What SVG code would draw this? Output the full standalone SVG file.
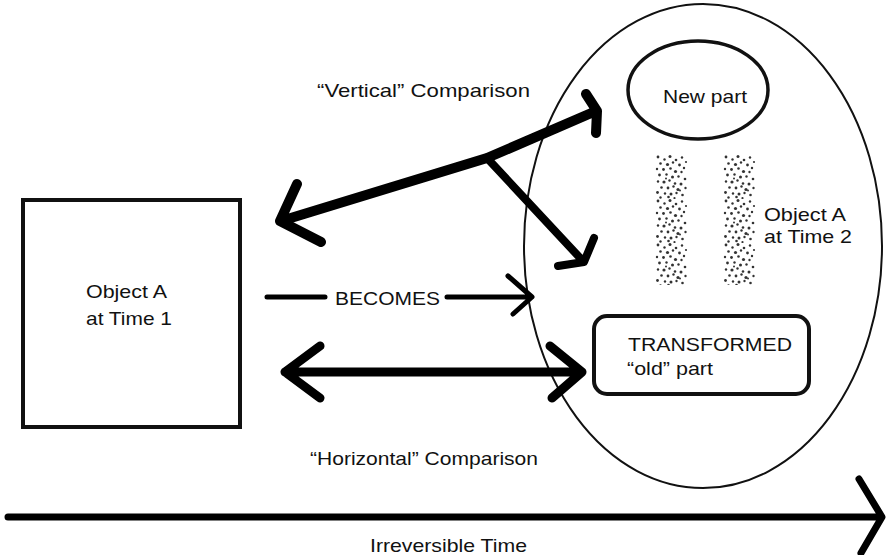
<svg xmlns="http://www.w3.org/2000/svg" width="889" height="555" viewBox="0 0 889 555">
<style>
text{font-family:"Liberation Sans",Arial,sans-serif;font-size:19px;fill:#111}
.thin{fill:none;stroke:#111;stroke-width:2}
.box{fill:none;stroke:#111;stroke-width:4}
.c{fill:none;stroke:#000;stroke-linecap:round;stroke-linejoin:round}
.d circle{fill:#333}
</style>
<defs>
<pattern id="dots" patternUnits="userSpaceOnUse" x="655" y="155" width="34" height="44">
<g class="d">
<circle cx="3" cy="2" r="1.4"/><circle cx="9.5" cy="4.5" r="1.2"/><circle cx="15" cy="1.5" r="1.5"/><circle cx="21" cy="5" r="1.3"/><circle cx="27" cy="2.5" r="1.2"/><circle cx="31" cy="7" r="1.1"/>
<circle cx="5.5" cy="8.5" r="1.3"/><circle cx="12.5" cy="9.5" r="1.6"/><circle cx="18" cy="7.5" r="1.2"/><circle cx="24.5" cy="10" r="1.4"/><circle cx="29" cy="13" r="1.2"/>
<circle cx="2" cy="14" r="1.2"/><circle cx="8.5" cy="14.5" r="1.4"/><circle cx="15.5" cy="13.5" r="1.3"/><circle cx="20.5" cy="16.5" r="1.6"/><circle cx="26.5" cy="17" r="1.2"/>
<circle cx="4.5" cy="20" r="1.4"/><circle cx="11.5" cy="19.5" r="1.2"/><circle cx="17.5" cy="22" r="1.5"/><circle cx="23.5" cy="21.5" r="1.2"/><circle cx="30" cy="24" r="1.3"/>
<circle cx="3" cy="26.5" r="1.2"/><circle cx="9" cy="27" r="1.6"/><circle cx="14.5" cy="25.5" r="1.2"/><circle cx="20" cy="28.5" r="1.3"/><circle cx="26" cy="29" r="1.5"/>
<circle cx="6.5" cy="32.5" r="1.3"/><circle cx="13" cy="33" r="1.4"/><circle cx="18.5" cy="31.5" r="1.2"/><circle cx="23" cy="34.5" r="1.6"/><circle cx="30.5" cy="33" r="1.2"/>
<circle cx="2.5" cy="37.5" r="1.4"/><circle cx="10" cy="38.5" r="1.2"/><circle cx="16" cy="39" r="1.5"/><circle cx="21.5" cy="38" r="1.2"/><circle cx="27.5" cy="40" r="1.3"/>
<circle cx="5.5" cy="42.5" r="1.2"/><circle cx="13.5" cy="42" r="1.3"/><circle cx="19.5" cy="43" r="1.1"/><circle cx="25" cy="35.5" r="1"/><circle cx="11" cy="23.5" r="1"/>
</g>
</pattern>
<filter id="soft" x="-5%" y="-5%" width="110%" height="110%"><feGaussianBlur stdDeviation="0.45"/></filter>
</defs>
<rect width="889" height="555" fill="#fff"/>
<g id="objectA-time1">
<rect x="23" y="200" width="217" height="227" class="box"/>
<text x="86" y="298" textLength="81" lengthAdjust="spacingAndGlyphs">Object A</text>
<text x="86" y="325" textLength="86" lengthAdjust="spacingAndGlyphs">at Time 1</text>
</g>
<g id="objectA-time2">
<ellipse cx="703" cy="246" rx="179" ry="242" class="thin"/>
<text x="764" y="221" textLength="82" lengthAdjust="spacingAndGlyphs">Object A</text>
<text x="764" y="243" textLength="88" lengthAdjust="spacingAndGlyphs">at Time 2</text>
</g>
<g id="new-part">
<ellipse cx="698" cy="90" rx="70" ry="49" fill="none" stroke="#111" stroke-width="3.5"/>
<text x="663" y="103" textLength="84" lengthAdjust="spacingAndGlyphs">New part</text>
</g>
<g id="transition-dots" filter="url(#soft)">
<rect x="655" y="155" width="32" height="130" fill="url(#dots)"/>
<rect x="723" y="155" width="32" height="130" fill="url(#dots)"/>
</g>
<g id="transformed-old-part">
<rect x="594" y="316" width="215" height="78" rx="13" class="box"/>
<text x="628" y="351" textLength="164" lengthAdjust="spacingAndGlyphs">TRANSFORMED</text>
<text x="627" y="375" textLength="86" lengthAdjust="spacingAndGlyphs">“old” part</text>
</g>
<g id="connectors">
<g id="becomes">
<path d="M267 297H325M447 297H530M508 276L532 297L513 314" class="c" stroke-width="5"/>
<text x="335" y="305" textLength="105" lengthAdjust="spacingAndGlyphs">BECOMES</text>
</g>
<g id="horizontal-comparison">
<path d="M285 372H582M320 346L285 372L320 398M550 346L582 372L552 398" class="c" stroke-width="9"/>
<text x="310" y="465" textLength="228" lengthAdjust="spacingAndGlyphs">“Horizontal” Comparison</text>
</g>
<g id="vertical-comparison">
<path d="M281 221L487 158L596 111M297 184L280 221L321 242M586 94L597 111L596 133" class="c" stroke-width="10"/>
<path d="M487 158L582 260M558 266L584 262L594 238" class="c" stroke-width="8"/>
<text x="317" y="97" textLength="213" lengthAdjust="spacingAndGlyphs">“Vertical” Comparison</text>
</g>
<g id="time">
<path d="M8 517H880M859 479L882 517L861 553" class="c" stroke-width="7"/>
<text x="370" y="552" textLength="157" lengthAdjust="spacingAndGlyphs">Irreversible Time</text>
</g>
</g>
</svg>
